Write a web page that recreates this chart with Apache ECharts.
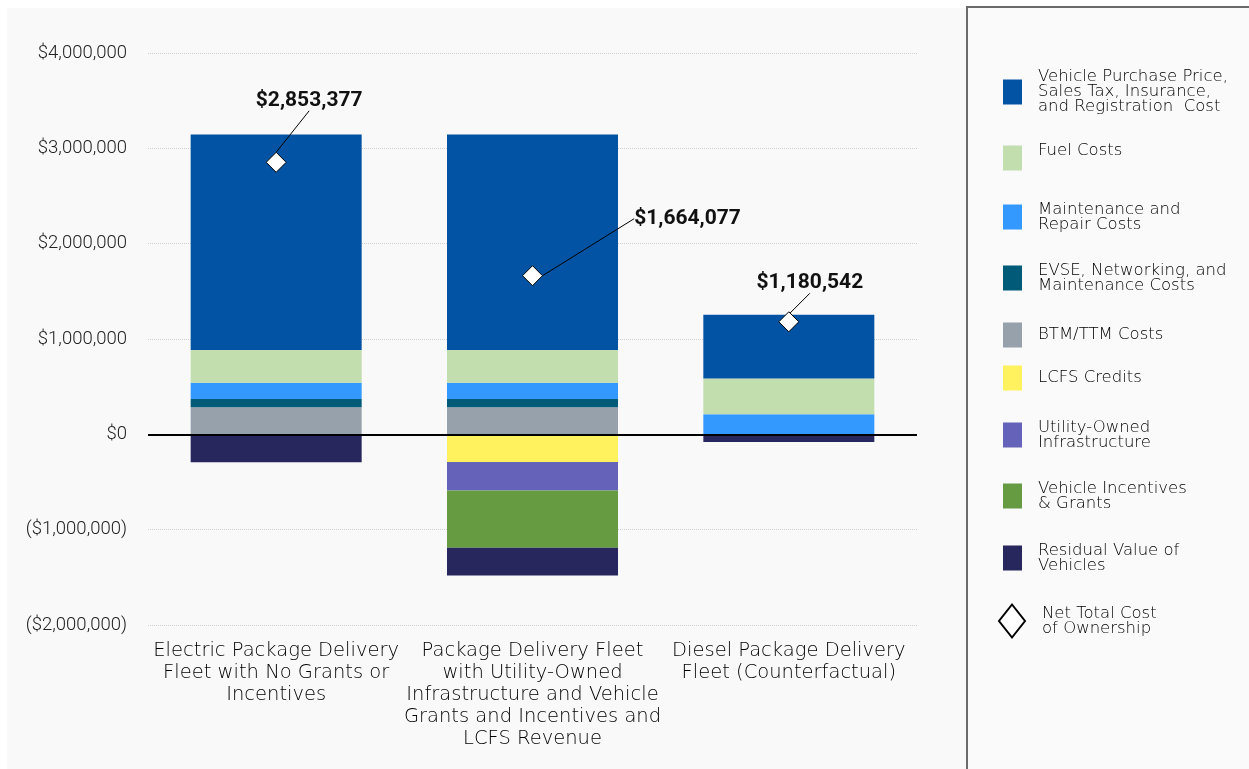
<!DOCTYPE html>
<html>
<head>
<meta charset="utf-8">
<script src="https://cdn.jsdelivr.net/npm/echarts@6/dist/echarts.min.js"></script>
<style>
  html, body { margin: 0; padding: 0; background: #fff; }
  #chart { width: 1249px; height: 769px; }
</style>
</head>
<body>
<div id="chart"></div>
<script>
// categories
const fleets = [
  'Electric Package Delivery\nFleet with No Grants or\nIncentives',
  'Package Delivery Fleet\nwith Utility-Owned\nInfrastructure and Vehicle\nGrants and Incentives and\nLCFS Revenue',
  'Diesel Package Delivery\nFleet (Counterfactual)'
];

// cost components (USD)
const vehiclePurchase = [2260000, 2260000, 670000];
const fuelCosts = [345000, 345000, 375000];
const maintenance = [170000, 170000, 210000];
const evseCosts = [85000, 85000, 0];
const btmTtm = [285000, 285000, 0];
const lcfsCredits = [0, -290000, 0];
const utilityOwned = [0, -300000, 0];
const incentives = [0, -599000, 0];
const residualValue = [-292000, -292000, -80000];
const netTotal = [2853377, 1664077, 1180542];

// y axis ticks
const yMin = -2000000, yMax = 4000000, yStep = 1000000;

const names = {
  vehicle: 'Vehicle Purchase Price,\nSales Tax, Insurance,\nand Registration  Cost',
  fuel: 'Fuel Costs',
  maint: 'Maintenance and\nRepair Costs',
  evse: 'EVSE, Networking, and\nMaintenance Costs',
  btm: 'BTM/TTM Costs',
  lcfs: 'LCFS Credits',
  util: 'Utility-Owned\nInfrastructure',
  inc: 'Vehicle Incentives\n& Grants',
  resid: 'Residual Value of\nVehicles',
  net: 'Net Total Cost\nof Ownership'
};

const colors = {
  vehicle: '#0253a4', fuel: '#c2ddae', maint: '#3399ff', evse: '#005a78',
  btm: '#97a1ab', lcfs: '#fff25e', util: '#6462b9', inc: '#679b42', resid: '#27275e'
};

function money(v) {
  const s = '$' + String(Math.abs(v)).replace(/\B(?=(\d{3})+(?!\d))/g, ',');
  return v < 0 ? '(' + s + ')' : s;
}

const font = 'Roboto';
const textFont = 'DejaVu Sans';
const labelOffsets = [[33, -62], [155, -57], [21, -39]];

function bar(key, data) {
  return {
    name: names[key],
    type: 'bar',
    stack: 'cost',
    barWidth: 171,
    data: data,
    itemStyle: { color: colors[key] },
    emphasis: { disabled: true }
  };
}

const series = [
  bar('btm', btmTtm),
  bar('evse', evseCosts),
  bar('maint', maintenance),
  bar('fuel', fuelCosts),
  bar('vehicle', vehiclePurchase),
  bar('lcfs', lcfsCredits),
  bar('util', utilityOwned),
  bar('inc', incentives),
  bar('resid', residualValue),
  {
    name: names.net,
    type: 'scatter',
    symbol: 'diamond',
    symbolSize: 20,
    z: 5,
    data: netTotal,
    itemStyle: { color: '#fff', borderColor: '#000', borderWidth: 1, opacity: 1 },
    emphasis: { disabled: true },
    label: {
      show: true,
      position: 'inside',
      formatter: p => money(p.value),
      fontFamily: font,
      fontWeight: 'bold',
      fontSize: 21,
      color: '#111'
    },
    labelLayout: p => ({ dx: labelOffsets[p.dataIndex][0], dy: labelOffsets[p.dataIndex][1] }),
    labelLine: { show: true, lineStyle: { color: '#000', width: 1, opacity: 1 } }
  }
];
// zero line
series[0].markLine = {
  silent: true,
  symbol: 'none',
  label: { show: false },
  lineStyle: { color: '#000', width: 2, type: 'solid' },
  data: [{ yAxis: 0 }]
};

// legend entries: key, vertical centre, extra blank line below text
const legendItems = [
  ['vehicle', 91, false],
  ['fuel', 157, true],
  ['maint', 216, false],
  ['evse', 277, false],
  ['btm', 335, false],
  ['lcfs', 378, false],
  ['util', 434, false],
  ['inc', 495, false],
  ['resid', 557, false],
  ['net', 620, false]
];

const legends = legendItems.map(([k, cy, lift]) => {
  const n = names[k];
  const lines = n.split('\n').length + (lift ? 1 : 0);
  const isNet = k === 'net';
  const h = Math.max(isNet ? 33 : 25, lines * 15);
  const item = isNet
    ? { name: n, icon: 'diamond', itemStyle: { color: '#fff', borderColor: '#000', borderWidth: 2 } }
    : { name: n, icon: 'rect', itemStyle: { color: colors[k], borderWidth: 0 } };
  return {
    data: [item],
    left: isNet ? 998 : 1003,
    top: cy - h / 2,
    padding: 0,
    orient: 'vertical',
    itemWidth: isNet ? 26 : 19,
    itemHeight: isNet ? 33 : 25,
    selectedMode: false,
    formatter: name => (lift ? name + '\n ' : name),
    textStyle: {
      fontFamily: textFont,
      fontWeight: 200,
      fontSize: 16.5,
      lineHeight: 15,
      color: '#000',
      padding: [0, 0, 0, isNet ? 12 : 11]
    }
  };
});

const chart = echarts.init(document.getElementById('chart'));
chart.setOption({
  animation: false,
  backgroundColor: 'transparent',
  graphic: [
    {
      type: 'rect', left: 7, top: 8, z: -10,
      shape: { width: 1250, height: 770 },
      style: { fill: '#f9f9f9' }
    },
    {
      type: 'rect', left: 966, top: 6, z: -5,
      shape: { width: 300, height: 800 },
      style: { fill: '#fafafa', stroke: '#6b6b6b', lineWidth: 2 }
    }
  ],
  grid: { left: 148, right: 332, top: 53, bottom: 144 },
  legend: legends,
  xAxis: {
    type: 'category',
    data: fleets,
    axisLine: { show: false },
    axisTick: { show: false },
    axisLabel: {
      interval: 0,
      margin: 15,
      fontFamily: textFont,
      fontWeight: 200,
      fontSize: 19.5,
      lineHeight: 22,
      color: '#000'
    }
  },
  yAxis: {
    type: 'value',
    min: yMin,
    max: yMax,
    interval: yStep,
    axisLabel: {
      formatter: money,
      margin: 21,
      fontFamily: font,
      fontWeight: 300,
      fontSize: 18.5,
      color: '#222'
    },
    splitLine: { lineStyle: { color: '#d0d0d0', type: 'dotted' } }
  },
  series: series
});
</script>
</body>
</html>
